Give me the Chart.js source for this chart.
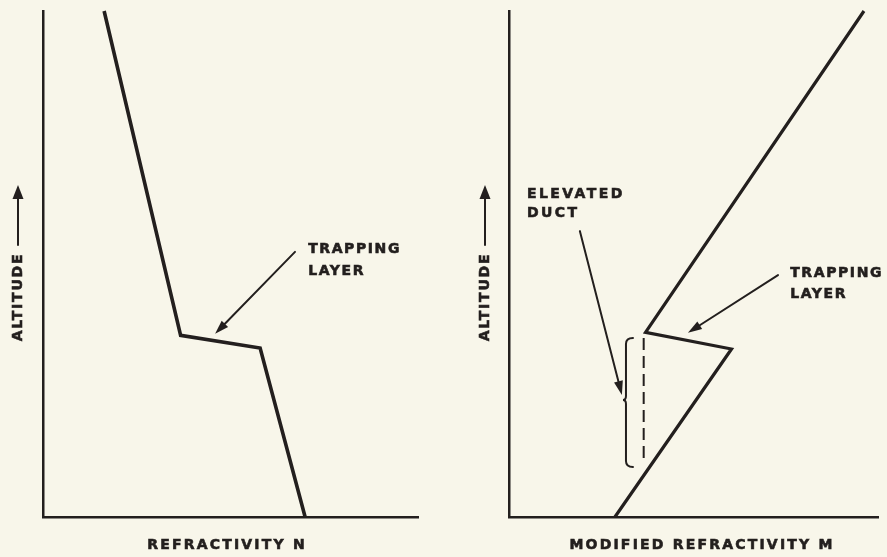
<!DOCTYPE html>
<html><head><meta charset="utf-8">
<script src="https://cdn.jsdelivr.net/npm/chart.js@4/dist/chart.umd.min.js"></script>
<style>
html,body{margin:0;padding:0;background:#f8f6ea;}
#wrap{display:flex;width:887px;height:557px;}
.c{position:relative;height:557px;}
</style></head><body>
<div id="wrap">
  <div class="c" style="width:444px"><canvas id="left"></canvas></div>
  <div class="c" style="width:443px"><canvas id="right"></canvas></div>
</div>
<script>
// ---------- data (arbitrary units, 0..100) ----------
const leftN      = [16.3, 36.7, 57.9, 69.9];
const leftAlt    = [100, 35.9, 33.4, 0];
const rightM     = [28.7, 60.3, 37.0, 96.2];
const rightAlt   = [0, 33.2, 36.5, 100];
const ductM      = [36.5, 36.5];
const ductAlt    = [35.4, 10.7];
const bracketM   = [31.7, 33.6];          // spine, tips
const bracketAlt = [35.4, 23.1, 9.9];     // top, nub, bottom
const leftArrow  = [[67.2, 52.4], [45.9, 36.2]];   // from, to
const rightArrow = [[72.9, 47.8], [48.5, 36.4]];
const ductArrow  = [[19.2, 56.5], [30.6, 24.1]];
const leftLabel  = {lines: ['TRAPPING', 'LAYER'], at: [70.7, 52.8], step: 4.2, spacing: 1.6};
const rightLabel = {lines: ['TRAPPING', 'LAYER'], at: [76.2, 48.2], step: 4.2, spacing: 1.6};
const ductLabel  = {lines: ['ELEVATED', 'DUCT'], at: [4.9, 63.8], step: 3.8, spacing: 2.4};
const leftXTitle  = 'REFRACTIVITY N';
const rightXTitle = 'MODIFIED REFRACTIVITY M';
const yTitle      = 'ALTITUDE';

const INK = '#231f1e';
const FONT = 'bold 14px "DejaVu Sans"';

function arrowLine(ctx, x0, y0, x1, y1, len, hw, lw) {
  const a = Math.atan2(y1 - y0, x1 - x0);
  const bx = x1 - len * Math.cos(a), by = y1 - len * Math.sin(a);
  ctx.lineWidth = lw;
  ctx.beginPath(); ctx.moveTo(x0, y0); ctx.lineTo(bx, by); ctx.stroke();
  ctx.beginPath();
  ctx.moveTo(x1, y1);
  ctx.lineTo(bx - hw * Math.sin(a), by + hw * Math.cos(a));
  ctx.lineTo(bx + hw * Math.sin(a), by - hw * Math.cos(a));
  ctx.closePath(); ctx.fill();
}

function boldText(ctx, t, x, y) {
  ctx.lineWidth = 0.6;
  ctx.fillText(t, x, y);
  ctx.strokeText(t, x, y);
}

const deco = {
  id: 'deco',
  afterDraw(chart, args, o) {
    const ctx = chart.ctx, sx = chart.scales.x, sy = chart.scales.y;
    const P = (v) => [sx.getPixelForValue(v[0]), sy.getPixelForValue(v[1])];
    ctx.save();
    ctx.strokeStyle = INK; ctx.fillStyle = INK; ctx.lineCap = 'round';
    // arrows
    (o.arrows || []).forEach(a => {
      const [x0, y0] = P(a[0]), [x1, y1] = P(a[1]);
      arrowLine(ctx, x0, y0, x1, y1, 14, 4.5, 2);
    });
    // labels
    ctx.font = FONT; ctx.textBaseline = 'middle'; ctx.textAlign = 'left';
    (o.labels || []).forEach(l => {
      ctx.letterSpacing = l.spacing + 'px';
      l.lines.forEach((t, i) => {
        const [x, y] = P([l.at[0], l.at[1] - i * l.step]);
        boldText(ctx, t, x, y);
      });
    });
    // bracket
    if (o.bracket) {
      const sp = sx.getPixelForValue(bracketM[0]), tip = sx.getPixelForValue(bracketM[1]);
      const yt = sy.getPixelForValue(bracketAlt[0]), yn = sy.getPixelForValue(bracketAlt[1]), yb = sy.getPixelForValue(bracketAlt[2]);
      ctx.lineWidth = 2;
      ctx.beginPath();
      ctx.moveTo(tip, yt);
      ctx.quadraticCurveTo(sp, yt, sp, yt + 6);
      ctx.lineTo(sp, yn - 4);
      ctx.quadraticCurveTo(sp, yn, sp - 3, yn);
      ctx.quadraticCurveTo(sp, yn, sp, yn + 4);
      ctx.lineTo(sp, yb - 6);
      ctx.quadraticCurveTo(sp, yb, tip, yb);
      ctx.stroke();
    }
    // x title
    ctx.letterSpacing = '2.2px';
    ctx.textAlign = 'center';
    boldText(ctx, o.xTitle.text, o.xTitle.cx, o.xTitle.cy);
    // y title (rotated) with arrow
    ctx.save();
    ctx.translate(o.yTitle.cx, o.yTitle.cy);
    ctx.rotate(-Math.PI / 2);
    ctx.letterSpacing = '1.8px';
    ctx.textAlign = 'center';
    boldText(ctx, yTitle, 0, 0);
    ctx.restore();
    ctx.letterSpacing = '0px';
    arrowLine(ctx, o.yTitle.cx, o.yTitle.arrowFrom, o.yTitle.cx, o.yTitle.arrowTo, 14, 5.5, 2);
    ctx.restore();
  }
};

function axisOpts(isY) {
  return {
    type: 'linear', min: 0, max: 100,
    ticks: {display: false},
    grid: {display: false, drawTicks: false},
    border: {display: true, color: INK, width: 2.5},
    afterFit: (s) => { if (isY) s.width = 0; else s.height = 0; }
  };
}

function pts(xs, ys) { return xs.map((x, i) => ({x, y: ys[i]})); }

function makeChart(id, datasets, pad, decoOpts) {
  return new Chart(document.getElementById(id), {
    type: 'scatter',
    data: {datasets},
    options: {
      responsive: true, maintainAspectRatio: false, animation: false,
      layout: {padding: pad},
      plugins: {legend: {display: false}, tooltip: {enabled: false}, deco: decoOpts},
      scales: {x: axisOpts(false), y: axisOpts(true)},
      elements: {point: {radius: 0}}
    },
    plugins: [deco]
  });
}

const lineStyle = {showLine: true, borderColor: INK, pointRadius: 0, clip: false, borderJoinStyle: 'miter', tension: 0};

makeChart('left', [
  Object.assign({data: pts(leftN, leftAlt), borderWidth: 3.6}, lineStyle)
], {left: 43, right: 26, top: 11, bottom: 40}, {
  arrows: [leftArrow],
  labels: [leftLabel],
  xTitle: {text: leftXTitle, cx: 227, cy: 545},
  yTitle: {cx: 18, cy: 297, arrowFrom: 245, arrowTo: 185}
});

makeChart('right', [
  Object.assign({data: pts(rightM, rightAlt), borderWidth: 3.2}, lineStyle),
  Object.assign({data: pts(ductM, ductAlt), borderWidth: 2, borderDash: [12, 6]}, lineStyle)
], {left: 65, right: 9, top: 11, bottom: 40}, {
  arrows: [rightArrow, ductArrow],
  labels: [rightLabel, ductLabel],
  bracket: true,
  xTitle: {text: rightXTitle, cx: 258, cy: 545},
  yTitle: {cx: 41, cy: 297, arrowFrom: 245, arrowTo: 185}
});
</script>
</body></html>
